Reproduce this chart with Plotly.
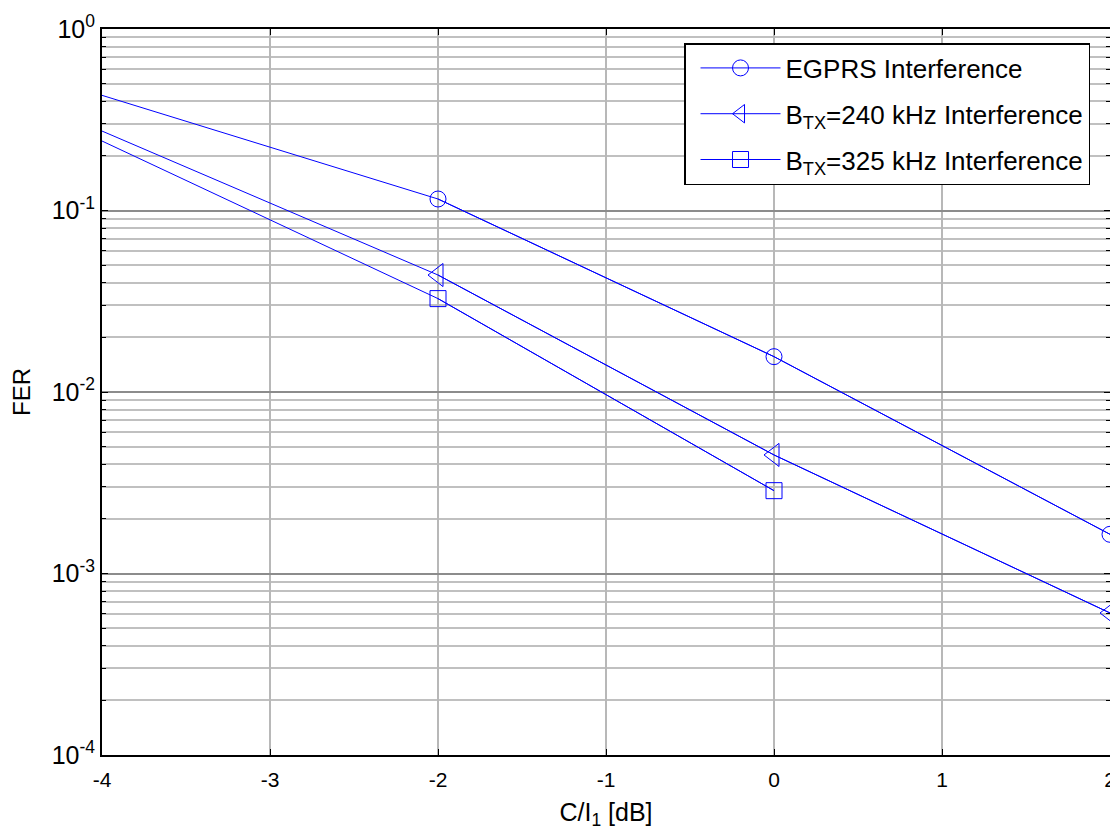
import plotly.graph_objects as go

# C/I1 [dB]
x_all = [-4, -2, 0, 2]
x_325 = [-4, -2, 0]
x_mark = [-2, 0, 2]
x_mark_325 = [-2, 0]

# FER values
fer_egprs = [0.431, 0.1157, 0.01566, 0.001644]
fer_240 = [0.274, 0.0441, 0.0045, 0.000606]
fer_325 = [0.2415, 0.0327, 0.00286]

names = ["EGPRS Interference",
         "B<sub>TX</sub>=240 kHz Interference",
         "B<sub>TX</sub>=325 kHz Interference"]

y_tickvals = [1e-4, 1e-3, 1e-2, 1e-1, 1e0]
y_ticktext = ["10<sup>-4</sup>", "10<sup>-3</sup>", "10<sup>-2</sup>", "10<sup>-1</sup>", "10<sup>0</sup>"]
x_tickvals = [-4, -3, -2, -1, 0, 1, 2]

BLUE = "#0000ff"
FONT = "Arial, Liberation Sans, sans-serif"

fig = go.Figure()

series = [
    (x_all, fer_egprs, x_mark, "circle-open", 16, names[0], 0),
    (x_all, fer_240, x_mark, "triangle-left-open", 20, names[1], 1),
    (x_325, fer_325, x_mark_325, "square-open", 16, names[2], 2),
]

for xs, ys, xm, sym, size, name, i in series:
    # full line (first point without a visible marker)
    fig.add_trace(go.Scatter(
        x=xs, y=ys, mode="lines", line=dict(color=BLUE, width=1),
        showlegend=False, legendgroup=str(i), hoverinfo="skip"))
    ym = [ys[xs.index(v)] for v in xm]
    fig.add_trace(go.Scatter(
        x=xm, y=ym, mode="lines+markers", name=name, legendgroup=str(i),
        line=dict(color=BLUE, width=1),
        marker=dict(symbol=sym, size=size, color=BLUE,
                    line=dict(color=BLUE, width=1)),
        cliponaxis=False))

minor_vals = [m * 10.0 ** e for e in range(-4, 0) for m in range(2, 10)]

# the page body adds an 8px offset; figure sized to fit the window
fig.update_layout(
    width=1110, height=822,
    margin=dict(l=94, r=8, t=21, b=75, pad=0),
    paper_bgcolor="white", plot_bgcolor="white",
    font=dict(family=FONT, size=21, color="black"),
    showlegend=True,
    legend=dict(
        x=0.5774, y=0.9807, xanchor="left", yanchor="top",
        bgcolor="white", bordercolor="black", borderwidth=1.5,
        font=dict(family=FONT, size=26, color="black"),
        itemwidth=80, tracegroupgap=9, indentation=10,
    ),
    xaxis=dict(
        range=[-4, 2], tickmode="array", tickvals=x_tickvals,
        ticktext=[str(v) for v in x_tickvals],
        showgrid=True, gridcolor="#b8b8b8", gridwidth=1.5,
        zeroline=False, automargin=False,
        showline=True, linecolor="black", linewidth=2, mirror="ticks",
        ticks="inside", ticklen=6, tickcolor="black", tickwidth=1,
        tickfont=dict(family=FONT, size=21),
        ticklabelstandoff=5,
        title=dict(text="C/I<sub>1</sub> [dB]", font=dict(family=FONT, size=25), standoff=19),
    ),
    yaxis=dict(
        type="log", range=[-4, 0], tickmode="array", tickvals=y_tickvals,
        ticktext=y_ticktext,
        showgrid=True, gridcolor="#8c8c8c", gridwidth=1.5,
        zeroline=False, automargin=False,
        showline=True, linecolor="black", linewidth=2, mirror="ticks",
        ticks="inside", ticklen=6, tickcolor="black", tickwidth=1,
        tickfont=dict(family=FONT, size=25),
        ticklabelstandoff=0,
        minor=dict(tickmode="array", tickvals=minor_vals, ticks="inside",
                   ticklen=4, tickcolor="black", tickwidth=1,
                   showgrid=True, gridcolor="#c0c0c0", gridwidth=1.5),
        title=dict(text="FER", font=dict(family=FONT, size=24), standoff=27),
    ),
)

fig.write_html("out.html")
